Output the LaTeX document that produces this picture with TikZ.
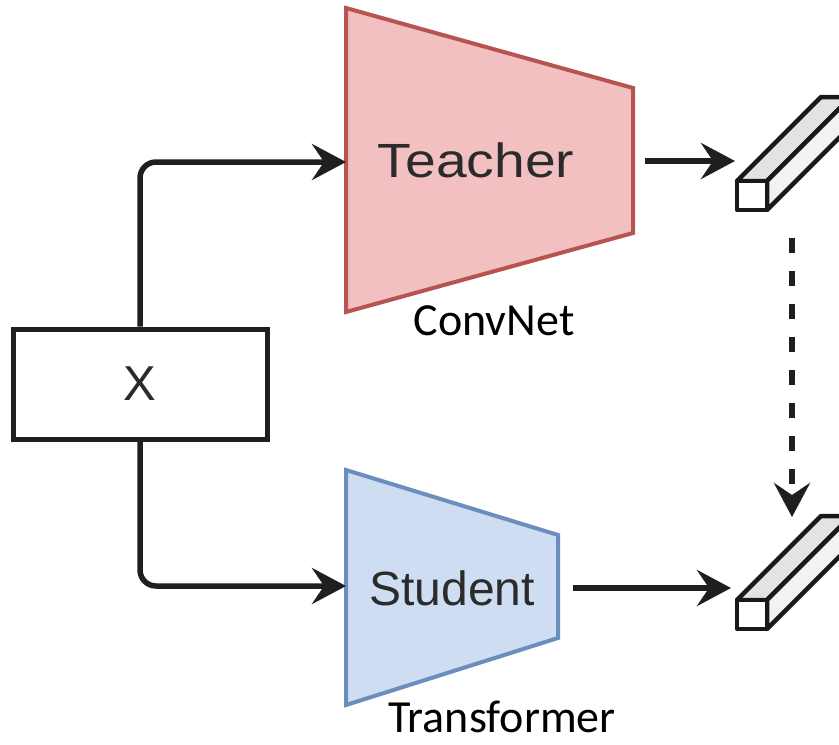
\documentclass[tikz,border=0pt]{standalone}
\usepackage{fontspec}
\setmainfont{Liberation Sans}
\newfontfamily\calfont{Carlito}
\usepackage{xcolor}
\usepackage{tikz}
\usetikzlibrary{arrows.meta}

\definecolor{teachfill}{HTML}{F2C0C1}
\definecolor{teachline}{HTML}{B85450}
\definecolor{studfill}{HTML}{CEDDF1}
\definecolor{studline}{HTML}{6C8EBF}
\definecolor{inktext}{HTML}{2B2B2B}

\tikzset{
  flow/.style={line width=5.5pt, draw=black!88, -{Stealth[length=34pt,width=36pt,inset=12pt]}},
  inbox/.style={draw=black!88, line width=5pt, fill=white, minimum width=254pt, minimum height=110pt, inner sep=0pt, text=inktext, font=\fontsize{49}{58}\selectfont},
  netlabel/.style={text=inktext, font=\fontsize{48}{58}\selectfont, anchor=base},
  caplabel/.style={text=black, font=\calfont\fontsize{46}{55}\selectfont, anchor=base},
  barside/.style={draw=black!90, line width=4.5pt, line join=round}
}

\begin{document}
\begin{tikzpicture}[x=1pt,y=-1pt]
    \clip (0,0) rectangle (839,745);
    \fill[white] (0,0) rectangle (839,745);

    % teacher and student
    \filldraw[fill=teachfill, draw=teachline, line width=4pt] (346,8) -- (633,88) -- (633,233) -- (346,312) -- cycle;
    \filldraw[fill=studfill, draw=studline, line width=4pt] (346,470) -- (558,535) -- (558,638) -- (346,705) -- cycle;
    \node[netlabel, xscale=1.15] (teach) at (476,177) {Teacher};
    \node[netlabel] (stud) at (452,605) {Student};
    \node[caplabel] (convlbl) at (494,335) {ConvNet};
    \node[caplabel] (translbl) at (502,732) {Transformer};

    \coordinate (tin) at (346,162);
    \coordinate (tout) at (633,161);
    \coordinate (sin) at (346,586);
    \coordinate (sout) at (558,588);

    % feature bars
    \foreach \by/\bn in {181/tbar,600/sbar} {
      \filldraw[barside, fill=gray!22] (737,\by) -- (767,\by) -- ++(84,-84) -- ++(-30,0) -- cycle;
      \filldraw[barside, fill=gray!10] (767,\by) -- ++(0,29) -- ++(84,-84) -- ++(0,-29) -- cycle;
      \filldraw[barside, fill=white] (737,\by) rectangle ++(30,29);
    }
    \coordinate (tbar) at (735,161);
    \coordinate (sbar) at (731,588);
    \coordinate (dtop) at (792,238);
    \coordinate (dbot) at (792,517);

    % input
    \node[inbox] (xbox) at (140,384) {X};

    \draw[flow, rounded corners=16pt] (xbox.north) |- (tin);
    \draw[flow, rounded corners=16pt] (xbox.south) |- (sin);
    \draw[flow, shorten <=12pt] (tout) -- (tbar);
    \draw[flow, shorten <=15pt] (sout) -- (sbar);
    \draw[flow, dash pattern=on 15pt off 18pt] (dtop) -- (dbot);

\end{tikzpicture}
\end{document}
